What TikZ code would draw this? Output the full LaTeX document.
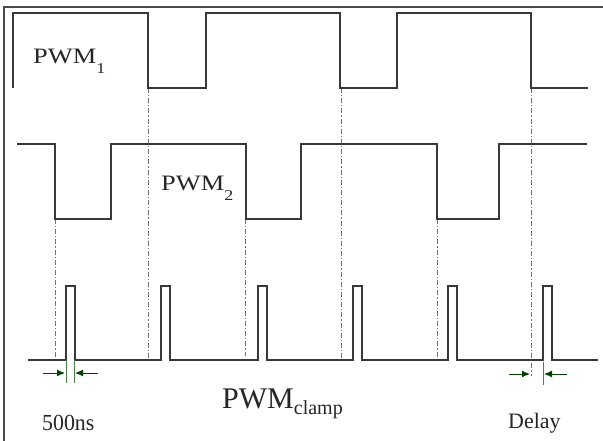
\documentclass[tikz,border=0pt]{standalone}
\usepackage{fontspec}
\setmainfont{Liberation Serif}
\usetikzlibrary{arrows.meta}
\begin{document}
\begin{tikzpicture}[x=1pt,y=-1pt,
  sig/.style={draw=black!78,line width=1.8pt,line join=miter},
  frameline/.style={draw=black!70,line width=1.6pt},
  guide/.style={draw=black!55,line width=0.9pt,dash pattern=on 5pt off 2pt on 1.2pt off 2pt},
  extline/.style={draw=black!50!green!40!gray,line width=1pt},
  dimarrow/.style={draw=green!25!black,line width=1pt,-{Latex[length=8pt,width=7pt]}},
  lab/.style={inner sep=0pt,text=black!85}]
\useasboundingbox (0,0) rectangle (603,441);
\fill[white] (0,0) rectangle (603,441);
% frame
\draw[frameline] (4,441) -- (4,7) -- (603,7);
% guide lines
\draw[guide] (55,219) -- (55,360);
\draw[guide] (148,88) -- (148,362);
\draw[guide] (245,219) -- (245,356);
\draw[guide] (341,88) -- (341,360);
\draw[guide] (437,219) -- (437,360);
\draw[guide] (531,88) -- (531,376);
% PWM1
\draw[sig] (13,88) -- (13,13) -- (148,13) -- (148,88) -- (206,88) -- (206,13) -- (340,13) -- (340,88) -- (397,88) -- (397,13) -- (531,13) -- (531,88) -- (588,88);
% PWM2
\draw[sig] (17,144) -- (55,144) -- (55,219) -- (111,219) -- (111,144) -- (246,144) -- (246,219) -- (301,219) -- (301,144) -- (437,144) -- (437,219) -- (499,219) -- (499,144) -- (587,144);
% clamp
\draw[sig] (28,360) -- (66,360) -- (66,286) -- (75,286) -- (75,360)
  -- (161,360) -- (161,286) -- (170,286) -- (170,360)
  -- (258,360) -- (258,286) -- (267,286) -- (267,360)
  -- (353,360) -- (353,286) -- (362,286) -- (362,360)
  -- (448,360) -- (448,286) -- (457,286) -- (457,360)
  -- (543,360) -- (543,286) -- (552,286) -- (552,360) -- (598,360);
% dimension 500ns
\draw[extline] (66,360) -- (66,383);
\draw[extline] (74,360) -- (74,383);
\coordinate (a1s) at (43,373);
\coordinate (a1e) at (65,373);
\coordinate (a2s) at (98,373);
\coordinate (a2e) at (75,373);
\draw[dimarrow] (a1s) -- (a1e);
\draw[dimarrow] (a2s) -- (a2e);
% dimension delay
\draw[extline] (543,362) -- (543,385);
\coordinate (b1s) at (509,374);
\coordinate (b1e) at (530,374);
\coordinate (b2s) at (567,374);
\coordinate (b2e) at (544,374);
\draw[dimarrow] (b1s) -- (b1e);
\draw[dimarrow] (b2s) -- (b2e);
% labels
\node[lab,anchor=base west] (pwm1) at (33,64) {\scalebox{1.2}[1]{\fontsize{22}{22}\selectfont PWM\raisebox{-0.42em}{\fontsize{15}{15}\selectfont 1}}};
\node[lab,anchor=base west] (pwm2) at (161,191) {\scalebox{1.2}[1]{\fontsize{22}{22}\selectfont PWM\raisebox{-0.42em}{\fontsize{15}{15}\selectfont 2}}};
\node[lab,anchor=base west] (pwmc) at (222,408) {\fontsize{30}{30}\selectfont PWM\raisebox{-0.22em}{\fontsize{20}{20}\selectfont clamp}};
\node[lab,anchor=base west] (ns) at (42,430) {\scalebox{0.95}[1]{\fontsize{23}{23}\selectfont 500ns}};
\node[lab,anchor=base west] (dl) at (508,428) {\fontsize{22}{22}\selectfont Delay};
\end{tikzpicture}
\end{document}
